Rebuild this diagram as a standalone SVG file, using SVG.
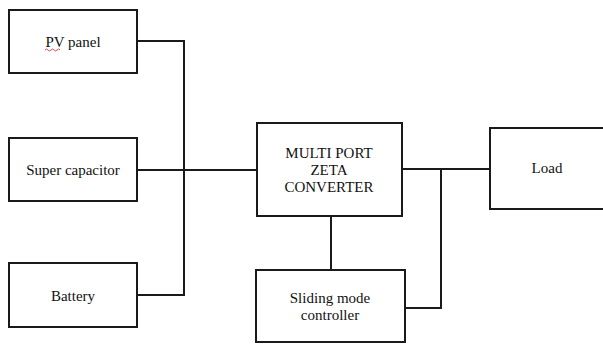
<svg xmlns="http://www.w3.org/2000/svg" width="603" height="345" viewBox="0 0 603 345">
<style>
.box{fill:#fff;stroke:#1a1a1a;stroke-width:2}
.wire{fill:none;stroke:#1a1a1a;stroke-width:2}
text{font-family:"Liberation Serif","Times New Roman",serif;font-size:15px;fill:#111;text-anchor:middle}
</style>
<rect width="603" height="345" fill="#fff"/>
<g id="connectors">
<polyline class="wire" points="137,41 184,41 184,295 137,295"/>
<line class="wire" x1="137" y1="170" x2="257" y2="170"/>
<line class="wire" x1="402" y1="169" x2="490" y2="169"/>
<polyline class="wire" points="441,169 441,308 405,308"/>
<line class="wire" x1="331" y1="216" x2="331" y2="270"/>
</g>
<g id="pv">
<rect class="box" x="9" y="10" width="128" height="63"/>
<text x="73" y="47">PV panel</text>
<path d="M45,50 q1.5,-2 3,0 t3,0 t3,0 t3,0 t3,0" fill="none" stroke="#e02020" stroke-width="0.8"/>
</g>
<g id="supercap">
<rect class="box" x="9" y="138" width="128" height="63"/>
<text x="73" y="175">Super capacitor</text>
</g>
<g id="battery">
<rect class="box" x="9" y="263" width="128" height="64"/>
<text x="73" y="301">Battery</text>
</g>
<g id="converter">
<rect class="box" x="257" y="123" width="145" height="93"/>
<text x="329" y="158">MULTI PORT</text>
<text x="329" y="175">ZETA</text>
<text x="329" y="192">CONVERTER</text>
</g>
<g id="controller">
<rect class="box" x="256" y="270" width="149" height="72"/>
<text x="330" y="303">Sliding mode</text>
<text x="330" y="320">controller</text>
</g>
<g id="load">
<rect class="box" x="490" y="128" width="120" height="81"/>
<text x="547" y="173">Load</text>
</g>
</svg>
